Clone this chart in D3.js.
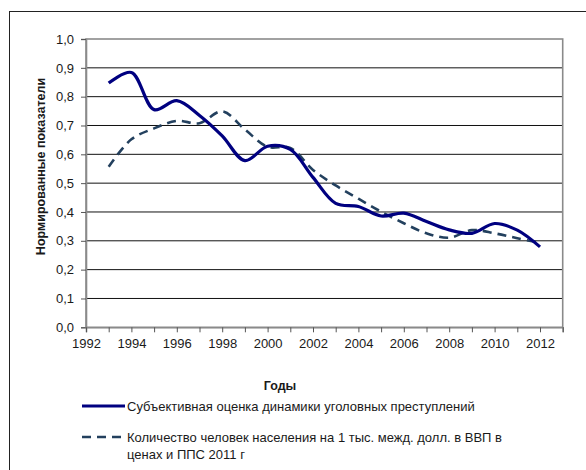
<!DOCTYPE html>
<html>
<head>
<meta charset="utf-8">
<script src="https://cdn.jsdelivr.net/npm/d3@7"></script>
<style>
body { margin: 0; background: #fff; }
text { font-family: Arial, "Liberation Sans", sans-serif; fill: #1a1a1a; }
</style>
</head>
<body>
<svg width="586" height="470"></svg>
<script>
'use strict';
// chart values
let aYears = [1993, 1994, 1995, 1996, 1997, 1998, 1999, 2000, 2001, 2002,
	2003, 2004, 2005, 2006, 2007, 2008, 2009, 2010, 2011, 2012]
let aCrime = [0.847, 0.884, 0.755, 0.786, 0.735, 0.664, 0.578, 0.628, 0.617, 0.52,
	0.43, 0.419, 0.386, 0.396, 0.367, 0.338, 0.326, 0.36, 0.337, 0.279]
let aPeople = [0.557, 0.652, 0.69, 0.716, 0.708, 0.749, 0.686, 0.626, 0.622, 0.546,
	0.492, 0.446, 0.401, 0.361, 0.326, 0.311, 0.337, 0.326, 0.309, 0.293]
let aXTicks = [1992, 1994, 1996, 1998, 2000, 2002, 2004, 2006, 2008, 2010, 2012]
let aYTicks = [0, 0.1, 0.2, 0.3, 0.4, 0.5, 0.6, 0.7, 0.8, 0.9, 1.0]
let sLegend1 = "Субъективная оценка динамики уголовных преступлений"
let aLegend2 = ["Количество человек населения на 1 тыс. межд. долл. в ВВП в", "ценах и ППС 2011 г"]

let eSvg = d3.select("svg")
let dLeft = 86, dTop = 39, dRight = 562.7, dBottom = 327.3

// outer frame (clipped on the right and bottom like the picture)
eSvg.append("rect")
	.attr("x", 9.5).attr("y", 11.5).attr("width", 640).attr("height", 520)
	.attr("fill", "none").attr("stroke", "#222").attr("stroke-width", 1)

let x = d3.scaleLinear().domain([1992, 2013]).range([dLeft, dRight])
let y = d3.scaleLinear().domain([0, 1]).range([dBottom, dTop])

// gridlines
eSvg.append("g").selectAll("line")
	.data(aYTicks.slice(1, -1))
	.enter().append("line")
	.attr("x1", dLeft).attr("x2", dRight)
	.attr("y1", d => y(d)).attr("y2", d => y(d))
	.attr("stroke", "#111").attr("stroke-width", 1)

// plot border
eSvg.append("rect")
	.attr("x", dLeft).attr("y", dTop)
	.attr("width", dRight - dLeft).attr("height", dBottom - dTop)
	.attr("fill", "none").attr("stroke", "#8a8a8a").attr("stroke-width", 1.6)

// y axis
let gY = eSvg.append("g").attr("transform", `translate(${dLeft},0)`)
	.call(d3.axisLeft(y).tickValues(aYTicks).tickSize(5).tickPadding(7)
		.tickFormat(d => d3.format(".1f")(d).replace(".", ",")))
gY.select(".domain").attr("stroke", "#8a8a8a").attr("stroke-width", 1.6)
gY.selectAll(".tick line").attr("stroke", "#555")
gY.selectAll("text").attr("font-size", 13).attr("fill", "#1a1a1a")
	.attr("font-family", "Arial, 'Liberation Sans', sans-serif")

// x axis, minor ticks every year, labels every 2 years
let gX = eSvg.append("g").attr("transform", `translate(0,${dBottom})`)
	.call(d3.axisBottom(x).tickValues(d3.range(1992, 2014)).tickSize(5).tickPadding(6)
		.tickFormat(d => aXTicks.includes(d) ? d : ""))
gX.select(".domain").attr("stroke", "#8a8a8a").attr("stroke-width", 1.6)
gX.selectAll(".tick line").attr("stroke", "#555")
gX.selectAll("text").attr("font-size", 13).attr("fill", "#1a1a1a")
	.attr("font-family", "Arial, 'Liberation Sans', sans-serif")

// axis titles
eSvg.append("text")
	.attr("transform", "translate(45,166.5) rotate(-90)")
	.attr("text-anchor", "middle")
	.attr("font-size", 12.5).attr("font-weight", "bold")
	.text("Нормированные показатели")

eSvg.append("text")
	.attr("x", 280).attr("y", 390)
	.attr("text-anchor", "middle")
	.attr("font-size", 12.5).attr("font-weight", "bold")
	.text("Годы")

// series lines
let fLine = vals => d3.line()
	.x((d, i) => x(aYears[i]))
	.y(d => y(d))
	.curve(d3.curveCatmullRom.alpha(0.5))(vals)

eSvg.append("path")
	.attr("d", fLine(aPeople))
	.attr("fill", "none").attr("stroke", "#23405e").attr("stroke-width", 2.6)
	.attr("stroke-dasharray", "9,6")

eSvg.append("path")
	.attr("d", fLine(aCrime))
	.attr("fill", "none").attr("stroke", "#000080").attr("stroke-width", 3.2)

// legend
let gLeg = eSvg.append("g")
gLeg.append("line")
	.attr("x1", 82).attr("x2", 125).attr("y1", 406).attr("y2", 406)
	.attr("stroke", "#000080").attr("stroke-width", 3.2)
gLeg.append("text")
	.attr("x", 127).attr("y", 411).attr("font-size", 13)
	.text(sLegend1)

gLeg.append("line")
	.attr("x1", 82).attr("x2", 125).attr("y1", 437).attr("y2", 437)
	.attr("stroke", "#23405e").attr("stroke-width", 2.6)
	.attr("stroke-dasharray", "9,6")
gLeg.selectAll("text.l2")
	.data(aLegend2)
	.enter().append("text")
	.attr("class", "l2")
	.attr("x", 127).attr("y", (d, i) => 442 + i * 17).attr("font-size", 13)
	.text(d => d)
</script>
</body>
</html>
